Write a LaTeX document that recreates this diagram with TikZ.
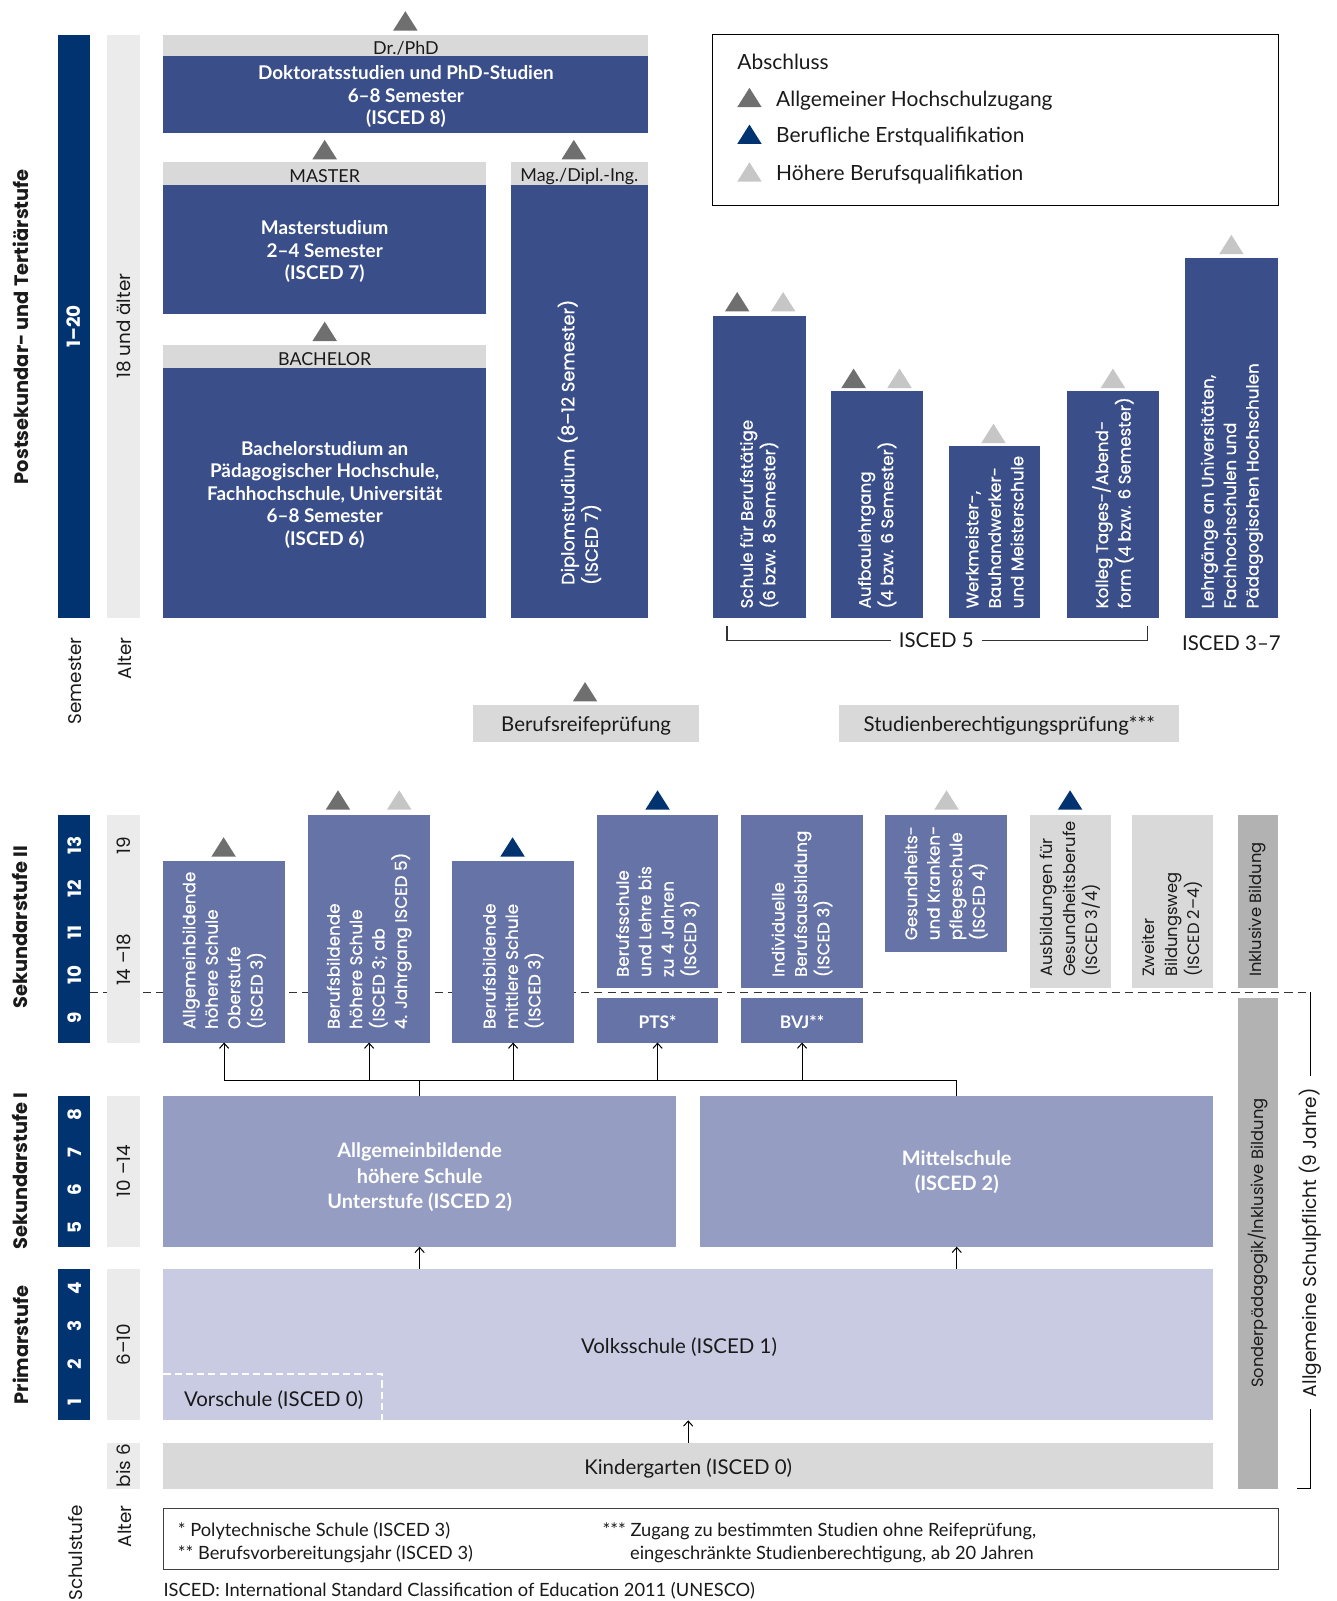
\documentclass[tikz,border=0pt]{standalone}
\usepackage{fontspec}
\setmainfont{Lato}
\newfontfamily\geo{Poppins}
\newfontfamily\geom{Poppins}[FakeBold=0.7]
\usetikzlibrary{arrows.meta}
\definecolor{navy}{HTML}{00336F}
\definecolor{bluedark}{HTML}{3A4F89}
\definecolor{bluemid}{HTML}{6673A6}
\definecolor{bluelt}{HTML}{959DC2}
\definecolor{bluepale}{HTML}{C8CBE2}
\definecolor{grayhd}{HTML}{D9D9D9}
\definecolor{graypale}{HTML}{EBEBEB}
\definecolor{graybar}{HTML}{B2B2B2}
\definecolor{tridark}{HTML}{6F6F6F}
\definecolor{trilight}{HTML}{C6C6C6}
\definecolor{textc}{HTML}{1A1A1A}
\newcommand\fz[2]{\fontsize{#1}{#2}\selectfont}
\newcommand\bx[6]{\node[draw=none,inner sep=0pt,outer sep=0pt,#6,anchor=north west,minimum width=#4pt,minimum height=#5pt] (#1) at (#2,#3) {};}
\newcommand\tri[3]{\fill[#3] (#1-12,#2) -- (#1+12,#2) -- (#1,#2-19) -- cycle;}
\tikzset{
  ht/.style={text=textc,font=\fz{20}{24},inner sep=0pt,yshift=-2.5pt},
  hw/.style={text=white,font=\bfseries\fz{18.5}{22},align=center,inner sep=0pt,yshift=-2pt},
  rw/.style={rotate=90,text=white,font=\geom\fz{16.4}{22},align=left,anchor=west,inner sep=0pt},
  rd/.style={rotate=90,text=textc,font=\geo\fz{16}{22},align=left,anchor=west,inner sep=0pt},
  seclbl/.style={rotate=90,text=textc,font=\geo\bfseries\fz{19}{22},inner sep=0pt},
  numw/.style={rotate=90,text=white,font=\geo\bfseries\fz{18}{22},inner sep=0pt},
  aged/.style={rotate=90,text=textc,font=\geo\fz{18}{22},inner sep=0pt},
  arr/.style={-{Straight Barb[length=5pt,width=9pt]},line width=1pt,draw=black},
  thinline/.style={line width=1pt,draw=black},
  dashline/.style={line width=1.2pt,draw=black!80,dash pattern=on 8pt off 5pt},
}
\begin{document}
\begin{tikzpicture}[x=1pt,y=-1pt]
\useasboundingbox (0,0) rectangle (1309,1568);
% compulsory schooling line (behind)
\coordinate (dA) at (88,972);
\coordinate (spTop) at (1283,972);
\coordinate (spBot) at (1283,1458);
\coordinate (spTick) at (1270,1458);
\draw[dashline] (dA) -- (spTop);
\draw[thinline] (spTop) -- (spBot) -- (spTick);
\node[rotate=90,text=textc,font=\geo\fz{18.2}{22},fill=white,inner xsep=12pt,inner ysep=2pt] (pflicht) at (1283,1217) {Allgemeine Schulpflicht (9 Jahre)};

% ===== left column =====
\bx{sem1}{57}{34}{31}{571}{fill=navy}
\bx{alt1}{105}{34}{32}{571}{fill=graypale}
\node[numw] at (sem1.center) {1–20};
\node[aged] at (alt1.center) {18 und älter};
\node[seclbl] (lpost) at (20,320) {Postsekundar- und Tertiärstufe};
\node[aged,anchor=east] (lsem) at (74,624) {Semester};
\node[aged,anchor=east] (lalt) at (122,624) {Alter};

% ===== tertiary =====
\bx{drhd}{160}{34}{475}{21}{fill=grayhd}
\bx{dr}{160}{55}{475}{75}{fill=bluedark}
\bx{mahd}{160}{159}{316}{22}{fill=grayhd}
\bx{ma}{160}{181}{316}{127}{fill=bluedark}
\bx{dihd}{500}{159}{135}{22}{fill=grayhd}
\bx{di}{500}{181}{135}{424}{fill=bluedark}
\bx{bahd}{160}{338}{316}{22}{fill=grayhd}
\bx{ba}{160}{360}{316}{245}{fill=bluedark}
\node[ht,font=\fz{17.5}{20}] at (drhd.center) {Dr./PhD};
\node[ht,font=\fz{17.5}{20}] at (mahd.center) {MASTER};
\node[ht,font=\fz{17.5}{20}] at (dihd.center) {Mag./Dipl.-Ing.};
\node[ht,font=\fz{17.5}{20}] at (bahd.center) {BACHELOR};
\node[hw] at (dr.center) {Doktoratsstudien und PhD-Studien\\6–8 Semester\\(ISCED 8)};
\node[hw] at (ma.center) {Masterstudium\\2–4 Semester\\(ISCED 7)};
\node[hw] at (ba.center) {Bachelorstudium an\\Pädagogischer Hochschule,\\Fachhochschule, Universität\\6–8 Semester\\(ISCED 6)};
\node[rw,font=\geom\fz{17.4}{23}] at (567.5,573) {Diplomstudium (8–12 Semester)\\(ISCED 7)};
\tri{397}{30}{tridark}
\tri{318}{156}{tridark}
\tri{562}{156}{tridark}
\tri{318}{334}{tridark}

% ===== legend =====
\bx{legend}{698}{34}{554}{167}{draw=black,line width=1pt}
\node[ht,font=\fz{20.5}{24},anchor=mid west] at (722,63) {Abschluss};
\tri{734}{105}{tridark}
\tri{734}{141}{navy}
\tri{734}{178}{trilight}
\node[ht,font=\fz{20.5}{24},anchor=mid west] at (760,99) {Allgemeiner Hochschulzugang};
\node[ht,font=\fz{20.5}{24},anchor=mid west] at (760,135) {Berufliche Erstqualifikation};
\node[ht,font=\fz{20.5}{24},anchor=mid west] at (760,172) {Höhere Berufsqualifikation};

% ===== ISCED 5 columns =====
\bx{r1}{698}{309}{91}{296}{fill=bluedark}
\bx{r2}{814}{383}{90}{222}{fill=bluedark}
\bx{r3}{929}{437}{90}{168}{fill=bluedark}
\bx{r4}{1045}{383}{90}{222}{fill=bluedark}
\bx{r5}{1161}{253}{91}{352}{fill=bluedark}
\node[rw] at (743.5,596) {Schule für Berufstätige\\(6 bzw. 8 Semester)};
\node[rw] at (859,596) {Aufbaulehrgang\\(4 bzw. 6 Semester)};
\node[rw] at (974,596) {Werkmeister-,\\Bauhandwerker-\\und Meisterschule};
\node[rw] at (1090,596) {Kolleg Tages-/Abend-\\form (4 bzw. 6 Semester)};
\node[rw] at (1206.5,596) {Lehrgänge an Universitäten,\\Fachhochschulen und\\Pädagogischen Hochschulen};
\tri{722}{305}{tridark}
\tri{767}{305}{trilight}
\tri{836}{380}{tridark}
\tri{881}{380}{trilight}
\tri{973}{434}{trilight}
\tri{1090}{380}{trilight}
\tri{1206}{249}{trilight}
\coordinate (b1) at (712,613);
\coordinate (b2) at (712,627);
\coordinate (b3) at (1124,627);
\coordinate (b4) at (1124,613);
\draw[line width=1pt,draw=black!80] (b1) -- (b2) -- (b3) -- (b4);
\node[ht,fill=white,inner xsep=8pt,inner ysep=2pt,yshift=2.5pt] (isc5) at (917,627) {\raisebox{-2.5pt}{ISCED 5}};
\node[ht] (isc37) at (1206,627) {ISCED 3–7};

% ===== exams =====
\bx{brp}{463}{690}{222}{37}{fill=grayhd}
\bx{sbp}{822}{690}{333}{37}{fill=grayhd}
\node[ht] at (brp.center) {Berufsreifeprüfung};
\node[ht] at (sbp.center) {Studienberechtigungsprüfung***};
\tri{573}{687}{tridark}

% ===== Sekundarstufe II =====
\bx{sem2}{57}{798}{31}{223}{fill=navy}
\bx{alt2}{105}{798}{32}{223}{fill=graypale}
\node[seclbl] at (20,908) {Sekundarstufe II};
\node[numw] at (73,828) {13};
\node[numw] at (73,870) {12};
\node[numw] at (73,913) {11};
\node[numw] at (73,955) {10};
\node[numw] at (73,997) {9};
\node[aged] at (121,828) {19};
\node[aged] at (121,940) {14 –18};
\bx{sA}{160}{843}{119}{178}{fill=bluemid}
\bx{sB}{302}{798}{119}{223}{fill=bluemid}
\bx{sC}{443}{843}{119}{178}{fill=bluemid}
\bx{sD}{585}{798}{118}{170}{fill=bluemid}
\bx{pts}{585}{977}{118}{44}{fill=bluemid}
\bx{sE}{726}{798}{119}{170}{fill=bluemid}
\bx{bvj}{726}{977}{119}{44}{fill=bluemid}
\bx{sF}{867}{798}{119}{134}{fill=bluemid}
\bx{sG}{1009}{798}{79}{170}{fill=grayhd}
\bx{sH}{1109}{798}{79}{170}{fill=grayhd}
\bx{sI}{1212}{798}{40}{170}{fill=graybar}
\bx{sonder}{1212}{977}{40}{481}{fill=graybar}
\node[rw] at (219.5,1008) {Allgemeinbildende\\höhere Schule\\Oberstufe\\(ISCED 3)};
\node[rw] at (361.5,1008) {Berufsbildende\\höhere Schule\\(ISCED 3; ab\\4. Jahrgang ISCED 5)};
\node[rw] at (502.5,1008) {Berufsbildende\\mittlere Schule\\(ISCED 3)};
\node[rw] at (644,957) {Berufsschule\\und Lehre bis\\zu 4 Jahren\\(ISCED 3)};
\node[rw] at (785.5,957) {Individuelle\\Berufsausbildung\\(ISCED 3)};
\node[rw] at (926.5,921) {Gesundheits-\\und Kranken-\\pflegeschule\\(ISCED 4)};
\node[rd] at (1048.5,957) {Ausbildungen für\\Gesundheitsberufe\\(ISCED 3/4)};
\node[rd] at (1148.5,957) {Zweiter\\Bildungsweg\\(ISCED 2–4)};
\node[rd] at (1232,957) {Inklusive Bildung};
\node[rd,anchor=center] at (sonder.center) {Sonderpädagogik/Inklusive Bildung};
\node[hw,font=\bfseries\fz{17}{20}] at (pts.center) {PTS*};
\node[hw,font=\bfseries\fz{17}{20}] at (bvj.center) {BVJ**};
\tri{219}{839}{tridark}
\tri{331}{793}{tridark}
\tri{391}{793}{trilight}
\tri{502}{839}{navy}
\tri{644}{793}{navy}
\tri{927}{793}{trilight}
\tri{1048}{793}{navy}

% ===== Sekundarstufe I =====
\bx{sem3}{57}{1073}{31}{148}{fill=navy}
\bx{alt3}{105}{1073}{32}{148}{fill=graypale}
\node[seclbl] at (20,1147) {Sekundarstufe I};
\node[numw] at (73,1092) {8};
\node[numw] at (73,1129) {7};
\node[numw] at (73,1165) {6};
\node[numw] at (73,1202) {5};
\node[aged] at (alt3.center) {10 –14};
\bx{ahsu}{160}{1073}{502}{148}{fill=bluelt}
\bx{mittel}{686}{1073}{502}{148}{fill=bluelt}
\node[hw,font=\bfseries\fz{19.5}{25}] at (411,1151) {Allgemeinbildende\\höhere Schule\\Unterstufe (ISCED 2)};
\node[hw,font=\bfseries\fz{19.5}{25}] at (937,1146) {Mittelschule\\(ISCED 2)};

% ===== Primarstufe =====
\bx{sem4}{57}{1243}{31}{148}{fill=navy}
\bx{alt4}{105}{1243}{32}{148}{fill=graypale}
\node[seclbl] at (20,1317) {Primarstufe};
\node[numw] at (73,1262) {4};
\node[numw] at (73,1299) {3};
\node[numw] at (73,1336) {2};
\node[numw] at (73,1373) {1};
\node[aged] at (alt4.center) {6–10};
\bx{volks}{160}{1243}{1028}{148}{fill=bluepale}
\node[ht] at (665,1317) {Volksschule (ISCED 1)};
\coordinate (vs1) at (160,1346);
\coordinate (vs2) at (374,1346);
\coordinate (vs3) at (374,1391);
\draw[white,line width=2pt,dash pattern=on 7pt off 4pt] (vs1) -- (vs2) -- (vs3);
\node[ht] at (268,1369) {Vorschule (ISCED 0)};

% ===== Kindergarten =====
\bx{alt5}{105}{1413}{32}{45}{fill=graypale}
\node[aged] at (alt5.center) {bis 6};
\bx{kinder}{160}{1413}{1028}{45}{fill=grayhd}
\node[ht] at (kinder.center) {Kindergarten (ISCED 0)};

% ===== connectors =====
\coordinate (jA) at (219.5,1058);
\coordinate (jB) at (361.5,1058);
\coordinate (jC) at (502.5,1058);
\coordinate (jD) at (644,1058);
\coordinate (jE) at (785.5,1058);
\coordinate (jU) at (411,1058);
\coordinate (jM) at (937,1058);
\draw[thinline] (jA) -- (jM) -- (mittel.north);
\draw[thinline] (ahsu.north) -- (jU);
\draw[arr] (jA) -- (sA.south);
\draw[arr] (jB) -- (sB.south);
\draw[arr] (jC) -- (sC.south);
\draw[arr] (jD) -- (pts.south);
\draw[arr] (jE) -- (bvj.south);
\draw[arr] (volks.north -| ahsu.south) -- (ahsu.south);
\draw[arr] (volks.north -| mittel.south) -- (mittel.south);
\draw[arr] (kinder.north) -- (volks.south);

% ===== bottom =====
\node[aged,anchor=east] (lschul) at (74,1474) {Schulstufe};
\node[aged,anchor=east] (lalt2) at (122,1474) {Alter};
\bx{foot}{160}{1477}{1092}{60}{draw=black!75,line width=1pt}
\node[ht,font=\fz{17.9}{22},anchor=mid west] at (174,1500) {* Polytechnische Schule (ISCED 3)};
\node[ht,font=\fz{17.9}{22},anchor=mid west] at (174,1522) {** Berufsvorbereitungsjahr (ISCED 3)};
\node[ht,font=\fz{17.9}{22},anchor=mid west] at (590,1500) {*** Zugang zu bestimmten Studien ohne Reifeprüfung,};
\node[ht,font=\fz{17.9}{22},anchor=mid west] at (617,1522) {eingeschränkte Studienberechtigung, ab 20 Jahren};
\node[ht,font=\fz{17.9}{22},anchor=mid west] at (160,1559) {ISCED: International Standard Classification of Education 2011 (UNESCO)};
\end{tikzpicture}
\end{document}
